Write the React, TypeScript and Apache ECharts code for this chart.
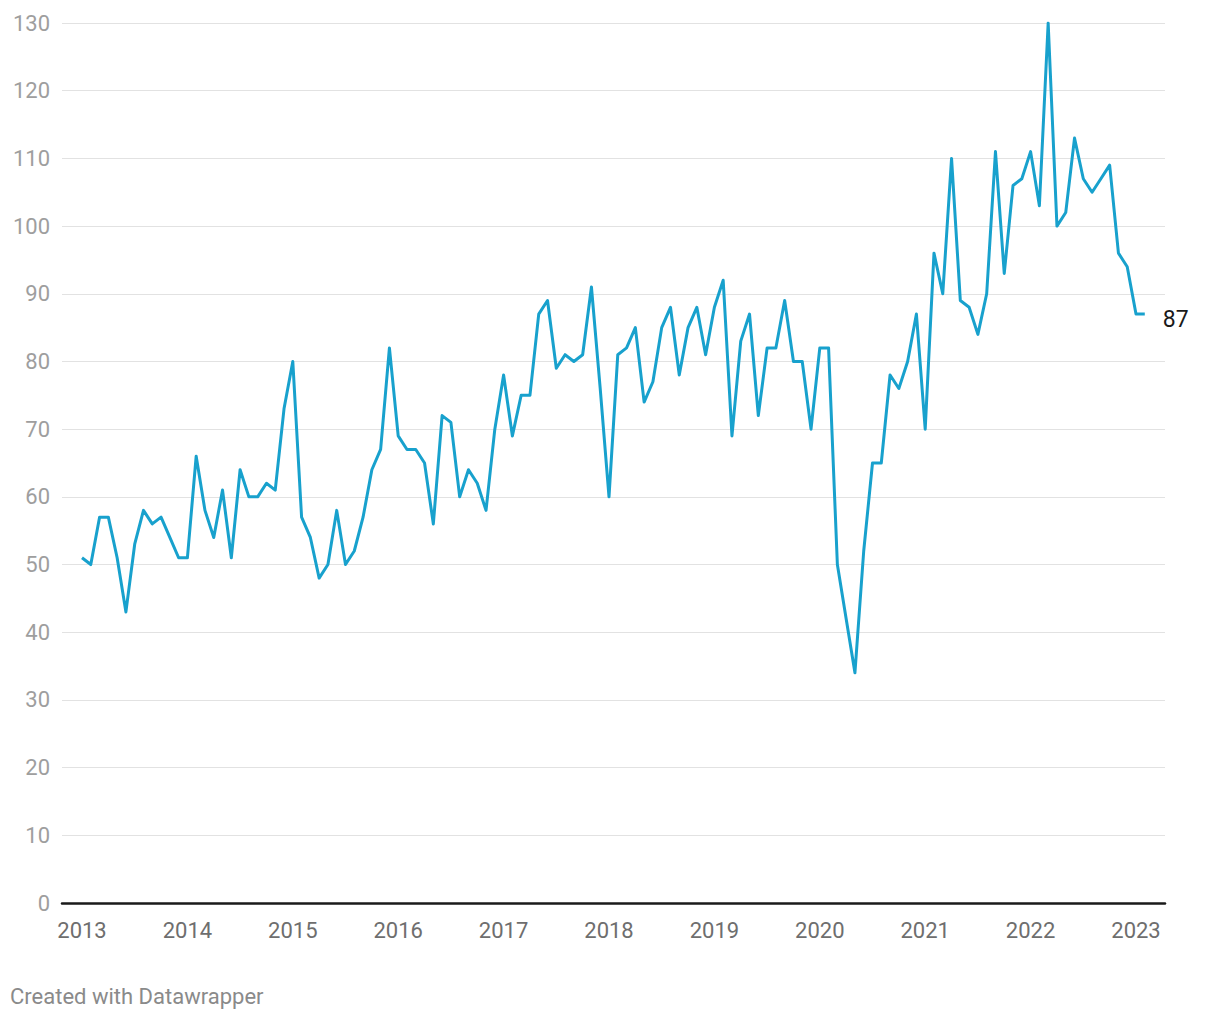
import React, { useEffect, useRef } from "react";
import * as echarts from "echarts";

const startYear = 2013;
const values2013 = [51, 50, 57, 57, 51, 43, 53, 58, 56, 57, 54, 51];
const values2014 = [51, 66, 58, 54, 61, 51, 64, 60, 60, 62, 61, 73];
const values2015 = [80, 57, 54, 48, 50, 58, 50, 52, 57, 64, 67, 82];
const values2016 = [69, 67, 67, 65, 56, 72, 71, 60, 64, 62, 58, 70];
const values2017 = [78, 69, 75, 75, 87, 89, 79, 81, 80, 81, 91, 76];
const values2018 = [60, 81, 82, 85, 74, 77, 85, 88, 78, 85, 88, 81];
const values2019 = [88, 92, 69, 83, 87, 72, 82, 82, 89, 80, 80, 70];
const values2020 = [82, 82, 50, 42, 34, 52, 65, 65, 78, 76, 80, 87];
const values2021 = [70, 96, 90, 110, 89, 88, 84, 90, 111, 93, 106, 107];
const values2022 = [111, 103, 130, 100, 102, 113, 107, 105, 107, 109, 96, 94];
const values2023 = [87, 87];

const yearTicks = [2013, 2014, 2015, 2016, 2017, 2018, 2019, 2020, 2021, 2022, 2023];

export default function App() {
  const ref = useRef<HTMLDivElement>(null);
  useEffect(() => {
    if (!ref.current) return;
    const chart = echarts.init(ref.current, null, { renderer: "svg" });
    const all = [
      ...values2013, ...values2014, ...values2015, ...values2016, ...values2017,
      ...values2018, ...values2019, ...values2020, ...values2021, ...values2022, ...values2023,
    ];
    const data = all.map((v, i) => [i, v]);
    const monthPx = (1136 - 82) / 120;
    const xMin = -(82 - 62) / monthPx;
    const xMax = (1165 - 82) / monthPx;
    chart.setOption({
      animation: false,
      textStyle: { fontFamily: "Roboto" },
      grid: { left: 62, right: 55, top: 23, bottom: 117, containLabel: false },
      xAxis: {
        type: "value",
        min: xMin,
        max: xMax,
        axisLine: { show: true, lineStyle: { color: "#1a1a1a", width: 2.5 } },
        axisTick: { show: false },
        splitLine: { show: false },
        axisLabel: {
          customValues: yearTicks.map((y) => (y - startYear) * 12),
          formatter: (v: number) => String(Math.round(startYear + v / 12)),
          color: "#6e6e6e",
          fontSize: 22,
          margin: 16,
          fontFamily: "Roboto",
        },
      },
      yAxis: {
        type: "value",
        min: 0,
        max: 130,
        interval: 10,
        axisLine: { show: false },
        axisTick: { show: false },
        splitLine: { lineStyle: { color: "#e2e2e2", width: 1 } },
        axisLabel: { color: "#9e9e9e", fontSize: 22, margin: 12, fontFamily: "Roboto" },
      },
      series: [
        {
          type: "line",
          data,
          symbol: "none",
          lineStyle: { color: "#18a1cd", width: 3, join: "round" },
          endLabel: {
            show: true,
            formatter: (p: any) => String(p.value[1]),
            color: "#1a1a1a",
            fontSize: 23,
            distance: 18,
            offset: [0, 5],
            fontFamily: "Roboto",
          },
        },
      ],
      graphic: [
        {
          type: "text",
          x: 10,
          y: 996,
          style: {
            text: "Created with Datawrapper",
            fill: "#8a8a8a",
            fontSize: 22,
            fontFamily: "Roboto",
            verticalAlign: "middle",
          },
        },
      ],
    });
    return () => chart.dispose();
  }, []);
  return (
    <div
      ref={ref}
      style={{ position: "fixed", left: 0, top: 0, width: 1220, height: 1020, background: "#fff" }}
    />
  );
}
